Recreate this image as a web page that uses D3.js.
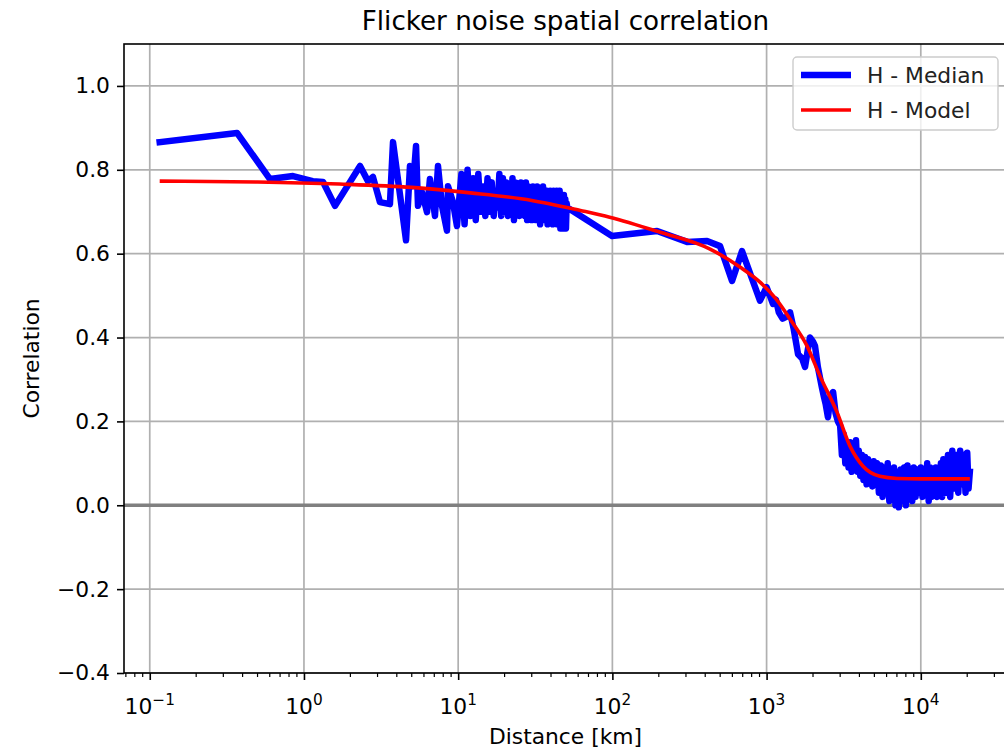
<!DOCTYPE html>
<html>
<head>
<meta charset="utf-8">
<script src="https://cdn.jsdelivr.net/npm/d3@7"></script>
<style>
  body { margin: 0; background: white; }
  svg { font-family: "DejaVu Sans", sans-serif; }
</style>
</head>
<body>
<div id="chart"></div>
<script>
// Median correlation, distance in km
const medianDist = [
    0.116, 0.368, 0.602, 0.849, 1.14, 1.33, 1.59, 2.31, 2.60, 2.80, 3.11, 3.61, 3.78, 4.59, 4.87, 5.09, 5.33, 5.49,
    5.82, 6.28, 6.56, 7.07, 7.40, 7.85, 8.46, 8.59, 9.25, 9.82,
    10.0, 10.5, 11.0, 11.5, 12.0, 12.5, 13.0, 13.5, 14.0, 14.5, 15.0, 15.5, 16.0, 16.5, 17.0, 17.5, 18.0, 18.5,
    19.0, 19.5, 20.0, 20.5, 21.0, 21.5, 22.0, 22.5, 23.0, 23.5, 24.0, 24.5, 25.0, 25.5, 26.0, 26.5, 27.0, 27.5,
    28.0, 28.5, 29.0, 29.5, 30.0, 30.5, 31.0, 31.5, 32.0, 32.5, 33.0, 33.5, 34.0, 34.5, 35.0, 35.5, 36.0, 36.5,
    37.0, 37.5, 38.0, 38.5, 39.0, 39.5, 40.0, 40.5, 41.0, 41.5, 42.0, 42.5, 43.0, 43.5, 44.0, 44.5, 45.0, 45.5,
    46.0, 46.5, 47.0, 47.5, 48.0, 48.5, 49.0, 49.5, 50.0, 50.5, 51.0,
    99.4, 195, 305, 411, 499, 597, 693, 906,
    1000, 1050, 1100, 1150, 1200, 1270, 1350, 1420, 1500, 1600, 1700, 1775, 1850, 1910, 2000, 2060, 2150, 2287,
    2350, 2420, 2500, 2600, 2700, 2800, 2900,
    3000, 3080, 3160, 3240, 3320, 3400, 3480, 3560, 3640, 3720, 3800, 3880, 3960, 4050, 4150, 4250, 4350, 4450,
    4550, 4650, 4750, 4850, 4950, 5050, 5200, 5350, 5500, 5650, 5800, 5950, 6100, 6250, 6400, 6550, 6700, 6850,
    7000, 7200, 7400, 7600, 7800, 8000, 8200, 8400, 8600, 8800, 9000, 9250, 9500, 9750, 10000, 10250, 10500, 10750,
    11000, 11250, 11500, 11750, 12000, 12250, 12500, 12750, 13000, 13250, 13500, 13750, 14000, 14500, 15000, 15500,
    16000, 16500, 17000, 17500, 18000, 18500, 19000, 19500, 20000, 20400, 20800
];
const medianCorr = [
    0.866, 0.888, 0.778, 0.785, 0.773, 0.771, 0.714, 0.809, 0.773, 0.783, 0.723, 0.718, 0.866, 0.632, 0.809, 0.761, 0.857, 0.714,
    0.747, 0.699, 0.778, 0.690, 0.809, 0.714, 0.655, 0.761, 0.723, 0.666,
    0.70, 0.79, 0.67, 0.80, 0.69, 0.78, 0.68, 0.79, 0.70, 0.76, 0.69, 0.78, 0.70, 0.77, 0.69, 0.75, 0.71, 0.79,
    0.69, 0.78, 0.70, 0.77, 0.69, 0.76, 0.70, 0.78, 0.68, 0.77, 0.70, 0.76, 0.69, 0.77, 0.70, 0.75, 0.69, 0.77,
    0.68, 0.76, 0.70, 0.75, 0.68, 0.76, 0.69, 0.75, 0.68, 0.76, 0.70, 0.74, 0.67, 0.75, 0.69, 0.76, 0.68, 0.74,
    0.70, 0.75, 0.67, 0.74, 0.69, 0.75, 0.68, 0.74, 0.67, 0.75, 0.69, 0.73, 0.68, 0.75, 0.67, 0.74, 0.69, 0.75,
    0.66, 0.74, 0.68, 0.73, 0.66, 0.74, 0.67, 0.73, 0.66, 0.72, 0.71,
    0.642, 0.654, 0.628, 0.630, 0.618, 0.535, 0.606, 0.488,
    0.52, 0.50, 0.48, 0.49, 0.46, 0.445, 0.45, 0.46, 0.42, 0.36, 0.35, 0.33, 0.37, 0.40, 0.39, 0.38, 0.33, 0.28,
    0.26, 0.24, 0.21, 0.26, 0.27, 0.22, 0.20,
    0.19, 0.12, 0.17, 0.10, 0.15, 0.09, 0.15, 0.08, 0.14, 0.09, 0.155, 0.08, 0.13, 0.07, 0.12, 0.06, 0.115, 0.05,
    0.11, 0.06, 0.10, 0.045, 0.105, 0.05, 0.10, 0.03, 0.095, 0.02, 0.09, 0.03, 0.10, 0.01, 0.085, 0.02, 0.09, 0.00,
    0.08, -0.005, 0.085, 0.01, 0.09, 0.00, 0.095, 0.02, 0.085, 0.01, 0.09, 0.02, 0.085, 0.03, 0.09, 0.02, 0.085, 0.03,
    0.10, 0.01, 0.09, 0.02, 0.08, 0.03, 0.09, 0.02, 0.085, 0.03, 0.10, 0.02, 0.11, 0.03, 0.12, 0.02,
    0.13, 0.04, 0.12, 0.03, 0.13, 0.05, 0.12, 0.03, 0.125, 0.04, 0.08
];

// Fitted model
const modelDist = [0.116, 0.5, 1.7, 5, 12, 30, 62, 96, 204, 430, 672, 906, 1150, 1419, 1828, 2220, 2862, 3475, 4220, 5430, 7010, 10000, 20800];
const modelCorr = [0.773, 0.771, 0.766, 0.758, 0.745, 0.727, 0.703, 0.687, 0.651, 0.611, 0.568, 0.532, 0.492, 0.444, 0.380, 0.308, 0.222, 0.141, 0.093, 0.069, 0.064, 0.063, 0.063];

const yTicks = [-0.4, -0.2, 0.0, 0.2, 0.4, 0.6, 0.8, 1.0];
const xTicks = [-1, 0, 1, 2, 3, 4];

const width = 1004, height = 751;
const margin = { top: 44, right: -3, bottom: 78, left: 124 };
const fs = 21.8;

const svg = d3.select("#chart")
    .append("svg")
    .attr("width", width)
    .attr("height", height);

// Scales
const x = d3.scaleLog()
    .domain([Math.pow(10, -1.167), Math.pow(10, 4.559)])
    .range([margin.left, width - margin.right]);

const y = d3.scaleLinear()
    .domain([-0.4, 1.1])
    .range([height - margin.bottom, margin.top]);

const x0 = margin.left, x1 = width - margin.right;
const y0 = height - margin.bottom, y1 = margin.top;

svg.append("clipPath").attr("id", "clip")
    .append("rect")
    .attr("x", x0).attr("y", y1)
    .attr("width", x1 - x0).attr("height", y0 - y1);

// Grid
const grid = svg.append("g").attr("stroke", "#b0b0b0").attr("stroke-width", 1.7);
grid.selectAll(".gx").data(xTicks).enter().append("line")
    .attr("x1", d => x(Math.pow(10, d))).attr("x2", d => x(Math.pow(10, d)))
    .attr("y1", y1).attr("y2", y0);
grid.selectAll(".gy").data(yTicks).enter().append("line")
    .attr("x1", x0).attr("x2", x1)
    .attr("y1", d => y(d)).attr("y2", d => y(d));

// Zero line
svg.append("line")
    .attr("x1", x0).attr("x2", x1)
    .attr("y1", y(0)).attr("y2", y(0))
    .attr("stroke", "#808080")
    .attr("stroke-width", 3.5);

const plot = svg.append("g").attr("clip-path", "url(#clip)");

const line = d3.line()
    .x(d => x(d[0]))
    .y(d => y(d[1]));

plot.append("path")
    .datum(d3.zip(medianDist, medianCorr))
    .attr("fill", "none")
    .attr("stroke", "#0000ff")
    .attr("stroke-width", 6.5)
    .attr("stroke-linejoin", "round")
    .attr("stroke-linecap", "square")
    .attr("d", line);

plot.append("path")
    .datum(d3.zip(modelDist, modelCorr))
    .attr("fill", "none")
    .attr("stroke", "#ff0000")
    .attr("stroke-width", 3.6)
    .attr("d", line.curve(d3.curveMonotoneX));

// Y-axis
const yAxis = svg.append("g")
    .attr("transform", `translate(${x0}, 0)`)
    .call(d3.axisLeft(y).tickValues(yTicks).tickSize(7).tickPadding(7)
        .tickFormat(d => d3.format(".1f")(d).replace("-", "\u2212")));
yAxis.select(".domain").remove();
yAxis.selectAll("line").attr("stroke-width", 1.6);
yAxis.selectAll("text").attr("font-size", fs).attr("font-family", "DejaVu Sans").attr("fill", "#000");

// X-axis: major ticks
const xAxis = svg.append("g")
    .attr("transform", `translate(0, ${y0})`)
    .call(d3.axisBottom(x).tickValues(xTicks.map(d => Math.pow(10, d))).tickSize(7).tickFormat(""));
xAxis.select(".domain").remove();
xAxis.selectAll("line").attr("stroke-width", 1.6);

// minor ticks
const minor = [];
for (let e = -2; e <= 4; e++) for (let m = 2; m <= 9; m++) minor.push(m * Math.pow(10, e));
svg.append("g").selectAll("line")
    .data(minor.filter(d => x(d) >= x0 && x(d) <= x1))
    .enter().append("line")
    .attr("x1", d => x(d)).attr("x2", d => x(d))
    .attr("y1", y0).attr("y2", y0 + 4)
    .attr("stroke", "#000").attr("stroke-width", 1.2);

// tick labels 10^n
const xl = svg.append("g").selectAll("text")
    .data(xTicks).enter().append("text")
    .attr("x", d => x(Math.pow(10, d)))
    .attr("y", 714)
    .attr("text-anchor", "middle")
    .attr("font-size", fs);
xl.append("tspan").text("10");
xl.append("tspan")
    .attr("dy", -9)
    .attr("font-size", 15.3)
    .text(d => String(d).replace("-", "\u2212"));

// spines
svg.append("rect")
    .attr("x", x0).attr("y", y1)
    .attr("width", x1 - x0).attr("height", y0 - y1)
    .attr("fill", "none")
    .attr("stroke", "#000")
    .attr("stroke-width", 1.6);

// Title & labels
svg.append("text")
    .attr("x", (x0 + x1) / 2)
    .attr("y", 30)
    .attr("text-anchor", "middle")
    .attr("font-size", 26.2)
    .text("Flicker noise spatial correlation");

svg.append("text")
    .attr("x", (x0 + x1) / 2)
    .attr("y", 744)
    .attr("text-anchor", "middle")
    .attr("font-size", fs)
    .text("Distance [km]");

svg.append("text")
    .attr("x", -(y0 + y1) / 2)
    .attr("y", 39)
    .attr("transform", "rotate(-90)")
    .attr("text-anchor", "middle")
    .attr("font-size", fs)
    .text("Correlation");

// Legend
const legend = svg.append("g");
legend.append("rect")
    .attr("x", 793).attr("y", 57)
    .attr("width", 205).attr("height", 73)
    .attr("rx", 4)
    .attr("fill", "white").attr("fill-opacity", 0.8)
    .attr("stroke", "#cccccc").attr("stroke-width", 1.4);
const entries = [
    { label: "H - Median", color: "#0000ff", w: 6.5, y: 75 },
    { label: "H - Model", color: "#ff0000", w: 3.6, y: 110 }
];
legend.selectAll(".li").data(entries).enter().append("line")
    .attr("x1", 801).attr("x2", 851)
    .attr("y1", d => d.y).attr("y2", d => d.y)
    .attr("stroke", d => d.color)
    .attr("stroke-width", d => d.w);
legend.selectAll(".lt").data(entries).enter().append("text")
    .attr("x", 867)
    .attr("y", d => d.y + 8)
    .attr("font-size", fs)
    .attr("fill", "#222")
    .text(d => d.label);
</script>
</body>
</html>
